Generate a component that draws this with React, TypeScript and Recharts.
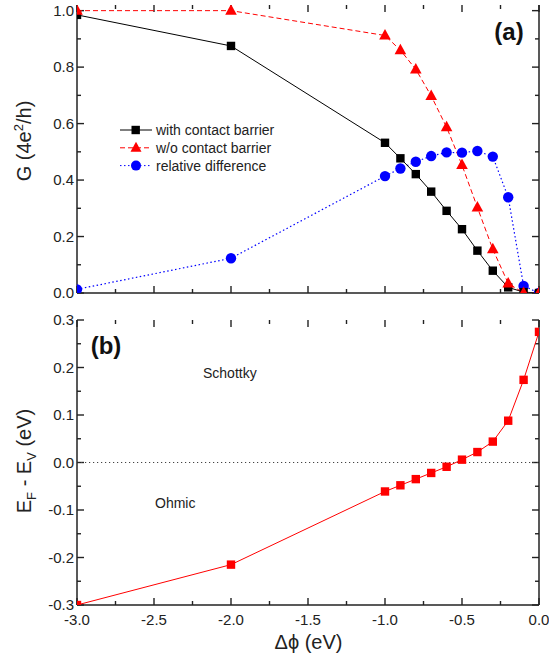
import React from 'react';
import { LineChart, Line, XAxis, YAxis, ReferenceLine, Customized } from 'recharts';

// x positions (work function shift, eV)
const dphi = [-3, -2, -1, -0.9, -0.8, -0.7, -0.6, -0.5, -0.4, -0.3, -0.2, -0.1, 0];

// panel (a): conductance in units of 4e^2/h
const withBarrier = [0.985, 0.875, 0.532, 0.477, 0.421, 0.359, 0.291, 0.226, 0.15, 0.079, 0.02, 0.003, 0];
const withoutBarrier = [1.0, 1.0, 0.912, 0.86, 0.792, 0.698, 0.587, 0.453, 0.303, 0.155, 0.034, 0, 0];
const relDiff = [0.013, 0.123, 0.414, 0.441, 0.465, 0.485, 0.498, 0.497, 0.503, 0.483, 0.339, 0.025, 0];

// panel (b): E_F - E_V (eV)
const efMinusEv = [-0.3, -0.215, -0.061, -0.048, -0.035, -0.022, -0.009, 0.006, 0.022, 0.044, 0.088, 0.174, 0.275];

const xTicks = [-3, -2.75, -2.5, -2.25, -2, -1.75, -1.5, -1.25, -1, -0.75, -0.5, -0.25, 0];
const gTicks = [0, 0.1, 0.2, 0.3, 0.4, 0.5, 0.6, 0.7, 0.8, 0.9, 1.0];
const eTicks = [-0.3, -0.25, -0.2, -0.15, -0.1, -0.05, 0, 0.05, 0.1, 0.15, 0.2, 0.25, 0.3];

const X_DOMAIN: [number, number] = [-3, 0];
const G_DOMAIN: [number, number] = [0, 1.02];
const E_DOMAIN: [number, number] = [-0.3, 0.3];

const topData = dphi.map((x, i) => ({ x, w: withBarrier[i], wo: withoutBarrier[i], rd: relDiff[i] }));
const bottomData = dphi.map((x, i) => ({ x, e: efMinusEv[i] }));

const FONT = '"Liberation Sans", Arial, Helvetica, sans-serif';
const AXIS = '#222';
const axisLine = { stroke: AXIS, strokeWidth: 1.5 };

// plot box of each panel, in its own svg (set by the margins / axis sizes below)
const W = 549;
const LEFT = 77;
const RIGHT_W = 10;
const TOP_BOX = { top: 5, bottom: 293 };
const BOT_BOX = { top: 20, bottom: 305 };

const multipleOf = (step: number) => (v: number) => Math.abs(v / step - Math.round(v / step)) < 1e-6;

// labels only on the major ticks; tick marks drawn separately (inward)
const xLabel = (props: any) => {
  const { x, y, payload } = props;
  if (!multipleOf(0.5)(payload.value)) return <g />;
  return <text x={x} y={y + 20} textAnchor="middle" fontSize={15} fill="#222" fontFamily={FONT}>{payload.value.toFixed(1)}</text>;
};
const yLabel = (step: number) => (props: any) => {
  const { x, y, payload } = props;
  if (!multipleOf(step)(payload.value)) return <g />;
  return <text x={x - 3} y={y + 5.3} textAnchor="end" fontSize={15} fill="#222" fontFamily={FONT}>{payload.value.toFixed(1)}</text>;
};
const noLabel = () => <g />;

// inward tick marks on all four sides of a panel
const Frame = ({ box, yTicks, yDomain, yMajor }: any) => {
  const x0 = LEFT, x1 = W - RIGHT_W;
  const sx = (v: number) => x0 + ((v - X_DOMAIN[0]) / (X_DOMAIN[1] - X_DOMAIN[0])) * (x1 - x0);
  const sy = (v: number) => box.bottom - ((v - yDomain[0]) / (yDomain[1] - yDomain[0])) * (box.bottom - box.top);
  const xMajor = multipleOf(0.5);
  const lines: any[] = [];
  xTicks.forEach((v, i) => {
    const len = xMajor(v) ? 7 : 4;
    const px = sx(v);
    lines.push(<line key={`xb${i}`} x1={px} x2={px} y1={box.bottom} y2={box.bottom - len} />);
    lines.push(<line key={`xt${i}`} x1={px} x2={px} y1={box.top} y2={box.top + len} />);
  });
  yTicks.forEach((v: number, i: number) => {
    const len = yMajor(v) ? 7 : 4;
    const py = sy(v);
    lines.push(<line key={`yl${i}`} x1={x0} x2={x0 + len} y1={py} y2={py} />);
    lines.push(<line key={`yr${i}`} x1={x1} x2={x1 - len} y1={py} y2={py} />);
  });
  return <g stroke={AXIS} strokeWidth={1.4}>{lines}</g>;
};

const squareDot = (color: string) => (p: any) =>
  <rect key={`s-${p.index}`} x={p.cx - 4.2} y={p.cy - 4.2} width={8.4} height={8.4} fill={color} />;
const triDot = (p: any) =>
  <polygon key={`t-${p.index}`} points={`${p.cx},${p.cy - 6.5} ${p.cx - 5.8},${p.cy + 4} ${p.cx + 5.8},${p.cy + 4}`} fill="#ff0000" />;
const circleDot = (p: any) =>
  <circle key={`c-${p.index}`} cx={p.cx} cy={p.cy} r={5.2} fill="#0000ff" />;

const legendItems = [
  { name: 'with contact barrier', color: '#000', dash: undefined, mark: 'square' },
  { name: 'w/o contact barrier', color: '#ff0000', dash: '5 3', mark: 'tri' },
  { name: 'relative difference', color: '#0000ff', dash: '1.5 2.5', mark: 'circle' },
];

const TopDecor = () => (
  <g fontFamily={FONT}>
    <Frame box={TOP_BOX} yTicks={gTicks} yDomain={G_DOMAIN} yMajor={multipleOf(0.2)} />
    <text x={31} y={141} transform="rotate(-90, 31, 141)" textAnchor="middle" fontSize={20} fill="#222">
      G (4e<tspan fontSize={13} dy={-8}>2</tspan><tspan dy={8}>/h)</tspan>
    </text>
    <text x={509} y={40} textAnchor="middle" fontSize={24} fontWeight="bold" fill="#111">(a)</text>
    {legendItems.map((it, i) => {
      const y = 130 + i * 17.8;
      return (
        <g key={it.name}>
          <line x1={120} x2={152} y1={y} y2={y} stroke={it.color} strokeWidth={1} strokeDasharray={it.dash} />
          {it.mark === 'square' && <rect x={131.5} y={y - 4.2} width={8.4} height={8.4} fill={it.color} />}
          {it.mark === 'tri' && <polygon points={`136,${y - 6} 130.5,${y + 4} 141.5,${y + 4}`} fill={it.color} />}
          {it.mark === 'circle' && <circle cx={136} cy={y} r={5} fill={it.color} />}
          <text x={156} y={y + 5} fontSize={14} fill="#222">{it.name}</text>
        </g>
      );
    })}
  </g>
);

const BottomDecor = () => (
  <g fontFamily={FONT}>
    <Frame box={BOT_BOX} yTicks={eTicks} yDomain={E_DOMAIN} yMajor={multipleOf(0.1)} />
    <text x={31} y={161} transform="rotate(-90, 31, 161)" textAnchor="middle" fontSize={20} fill="#222">
      E<tspan fontSize={13} dy={5}>F</tspan><tspan dy={-5}> - E</tspan><tspan fontSize={13} dy={5}>V</tspan><tspan dy={-5}> (eV)</tspan>
    </text>
    <text x={106} y={54} textAnchor="middle" fontSize={24} fontWeight="bold" fill="#111">(b)</text>
    <text x={203} y={78} fontSize={14} fill="#222">Schottky</text>
    <text x={155} y={208} fontSize={14} fill="#222">Ohmic</text>
    <text x={308.5} y={349} textAnchor="middle" fontSize={20} fill="#222">Δϕ (eV)</text>
  </g>
);

const axisCommon = { axisLine, tickLine: false, tickSize: 0, tickMargin: 0, interval: 0 as const, allowDataOverflow: true };

export default function App() {
  return (
    <div style={{ position: 'absolute', left: 0, top: 0, width: 549, height: 663, background: '#fff', fontFamily: FONT }}>
      <div style={{ position: 'absolute', left: 0, top: 0 }}>
        <LineChart width={W} height={300} data={topData} margin={{ top: TOP_BOX.top, right: 0, bottom: 0, left: 0 }}>
          <XAxis xAxisId="b" dataKey="x" type="number" domain={X_DOMAIN} ticks={xTicks} height={300 - TOP_BOX.bottom} tick={noLabel} {...axisCommon} />
          <XAxis xAxisId="t" orientation="top" dataKey="x" type="number" domain={X_DOMAIN} ticks={xTicks} height={0} tick={noLabel} {...axisCommon} />
          <YAxis yAxisId="l" type="number" domain={G_DOMAIN} ticks={gTicks} width={LEFT} tick={yLabel(0.2)} {...axisCommon} />
          <YAxis yAxisId="r" orientation="right" type="number" domain={G_DOMAIN} ticks={gTicks} width={RIGHT_W} tick={noLabel} {...axisCommon} />
          <Line xAxisId="b" yAxisId="l" dataKey="rd" stroke="#0000ff" strokeWidth={1.2} strokeDasharray="1.5 2.5"
            dot={circleDot} activeDot={false} isAnimationActive={false} />
          <Line xAxisId="b" yAxisId="l" dataKey="w" stroke="#000" strokeWidth={1} dot={squareDot('#000')}
            activeDot={false} isAnimationActive={false} />
          <Line xAxisId="b" yAxisId="l" dataKey="wo" stroke="#ff0000" strokeWidth={1} strokeDasharray="5 3"
            dot={triDot} activeDot={false} isAnimationActive={false} />
          <Customized component={TopDecor} />
        </LineChart>
      </div>
      <div style={{ position: 'absolute', left: 0, top: 300 }}>
        <LineChart width={W} height={363} data={bottomData} margin={{ top: BOT_BOX.top, right: 0, bottom: 0, left: 0 }}>
          <XAxis xAxisId="b" dataKey="x" type="number" domain={X_DOMAIN} ticks={xTicks} height={363 - BOT_BOX.bottom} tick={xLabel} {...axisCommon} />
          <XAxis xAxisId="t" orientation="top" dataKey="x" type="number" domain={X_DOMAIN} ticks={xTicks} height={0} tick={noLabel} {...axisCommon} />
          <YAxis yAxisId="l" type="number" domain={E_DOMAIN} ticks={eTicks} width={LEFT} tick={yLabel(0.1)} {...axisCommon} />
          <YAxis yAxisId="r" orientation="right" type="number" domain={E_DOMAIN} ticks={eTicks} width={RIGHT_W} tick={noLabel} {...axisCommon} />
          <ReferenceLine xAxisId="b" yAxisId="l" y={0} stroke="#444" strokeWidth={1.2} strokeDasharray="1.2 2.8" />
          <Line xAxisId="b" yAxisId="l" dataKey="e" stroke="#ff0000" strokeWidth={1} dot={squareDot('#ff0000')}
            activeDot={false} isAnimationActive={false} />
          <Customized component={BottomDecor} />
        </LineChart>
      </div>
    </div>
  );
}
